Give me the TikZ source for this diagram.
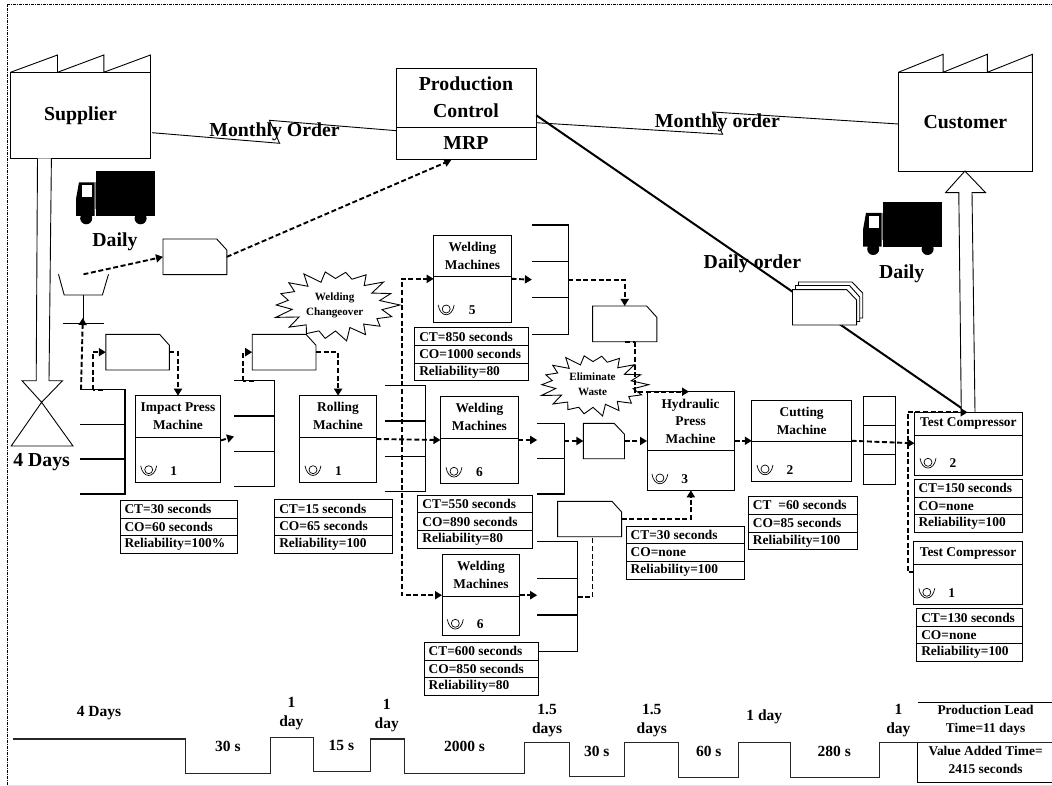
\documentclass[tikz,border=0pt]{standalone}
\usepackage{fontspec}
\setmainfont{Liberation Serif}
\usetikzlibrary{arrows.meta}
\newcommand\fntA{\fontsize{19.8}{27}\selectfont\bfseries}
\newcommand\fntB{\fontsize{15.5}{18.6}\selectfont\bfseries}
\newcommand\fntC{\fontsize{13.4}{17.8}\selectfont\bfseries}
\newcommand\fntD{\fontsize{11.1}{15.2}\selectfont\bfseries}
\tikzset{
  box/.style={draw=black,line width=0.9pt,fill=white,inner sep=0pt,outer sep=0pt},
  ghost/.style={inner sep=0pt,outer sep=0pt},
  thinline/.style={draw=black,line width=0.9pt},
  barline/.style={draw=black,line width=1.2pt},
  dashconn/.style={draw=black,line width=1.9pt,dash pattern=on 5pt off 2.6pt,-{Triangle[length=7pt,width=8pt]}},
  dashplain/.style={draw=black,line width=1.9pt,dash pattern=on 5pt off 2.6pt},
  title/.style={ghost,align=center,font=\fntC},
  big/.style={ghost,font=\fntA,align=center},
  mid/.style={ghost,font=\fntB,align=center},
  small/.style={ghost,font=\fntD,align=center},
  datatext/.style={ghost,anchor=west,font=\fntC},
}
% rectangular node from corners
\newcommand\rectnode[6]{\node[#1,minimum width={(#4-#3)*1pt},minimum height={(#6-#5)*1pt}] (#2) at ({(#3+#4)/2},{(#5+#6)/2}) {};}
% factory: name, x1, x2, y1, y2, ytop, p1, p2, text
\newcommand\factory[9]{%
  \draw[thinline] (#2,#4) -- (#7,#6) -- (#7,#4) -- (#8,#6) -- (#8,#4) -- (#3,#6) -- (#3,#4);
  \node[box,big,minimum width={(#3-#2)*1pt},minimum height={(#5-#4)*1pt}] (#1) at ({(#2+#3)/2},{(#4+#5)/2}) {#9};}
% process box: name, x1, x2, y1, ydiv, y2
\newcommand\procbox[6]{%
  \rectnode{box}{#1}{#2}{#3}{#4}{#6}
  \draw[thinline] (#2,#5) -- (#3,#5);}
% operator icon + count: name, xicon, xnum, y, count
\newcommand\opnum[5]{%
  \draw[line width=0.7pt] (#2,#4-1) circle [radius=4pt];
  \draw[line width=0.7pt] (#2-8,#4-5) .. controls (#2-6,#4+8) and (#2+6,#4+8) .. (#2+8,#4-5);
  \node[ghost,font=\fntC] (#1) at (#3,#4) {#5};}
% inventory bracket: name, x1, x2, y0, y1, y2, y3
\newcommand\invbox[7]{%
  \rectnode{ghost}{#1}{#2}{#3}{#4}{#7}
  \draw[barline] (#2,#4) -- (#3,#4) -- (#3,#7) -- (#2,#7);
  \draw[barline] (#2,#5) -- (#3,#5) (#2,#6) -- (#3,#6);}
% tag: name, x1, x2, y1, y2, xcut, ycut
\newcommand\tagbox[7]{%
  \rectnode{ghost}{#1}{#2}{#3}{#4}{#5}
  \draw[thinline,fill=white] (#2,#4) -- (#6,#4) -- (#3,#7) -- (#3,#5) -- (#2,#5) -- cycle;}
% data box: name, x1, x2, y0, y1, y2, y3
\newcommand\databox[7]{%
  \rectnode{box}{#1}{#2}{#3}{#4}{#7}
  \draw[thinline] (#2,#5) -- (#3,#5) (#2,#6) -- (#3,#6);
  \def\dX{#2}\def\dA{#4}\def\dB{#5}\def\dC{#6}\def\dD{#7}\def\dN{#1}}
\newcommand\datalines[3]{%
  \node[datatext] (\dN a) at (\dX+4.5,{(\dA+\dB)/2}) {#1};
  \node[datatext] (\dN b) at (\dX+4.5,{(\dB+\dC)/2}) {#2};
  \node[datatext] (\dN c) at (\dX+4.5,{(\dC+\dD)/2}) {#3};}
\newcommand\truck[2]{%
  \begin{scope}[shift={(#1,#2)}]
    \fill (95.7,171.3) rectangle (154.8,216);
    \fill (76,216) -- (76,199) -- (79,182.3) -- (94.5,182.3) -- (94.5,216) -- cycle;
    \fill[white] (82,185) rectangle (92,197.3);
    \draw[gray,line width=0.6pt] (95.2,182) -- (95.2,209);
    \fill (86.2,218.3) circle [radius=6pt];
    \fill (140.6,218.3) circle [radius=6pt];
  \end{scope}}
\newcommand\burst[5]{% name, cx, cy, rx, ry
  \draw[thinline,fill=white] plot[samples at={0,...,35},variable=\i]
    ({#2+#4*(mod(\i,2)==0 ? 1-0.10*abs(sin(\i*67)) : 0.70+0.05*sin(\i*41))*cos(\i*10)},
     {#3+#5*(mod(\i,2)==0 ? 1-0.10*abs(sin(\i*67)) : 0.70+0.05*sin(\i*41))*sin(\i*10)}) -- cycle;}
\begin{document}
\begin{tikzpicture}[x=1pt,y=-1pt]
\useasboundingbox (0,0) rectangle (1052,786);
% frame
\draw[line width=0.6pt,dash pattern=on 3pt off 1pt on 1pt off 1pt] (6.8,785) -- (6.8,4.7) -- (1052,4.7);
\draw[black!12,line width=0.6pt] (6.8,785.3) -- (1052,785.3);

% factories
\factory{supplier}{10.5}{150.5}{72.3}{158.3}{55}{57.5}{103.8}{Supplier}
\factory{customer}{898.4}{1032.4}{72.3}{171}{54.3}{943.1}{987.3}{Customer}

% production control
\procbox{pc}{396.5}{536.3}{68}{127}{159}
\node[big] (pctext) at (466,97) {Production\\Control};
\node[big] (mrp) at (466,142.7) {MRP};

% monthly order lightning lines
\coordinate (moA) at (152,132.7);
\coordinate (moB) at (279.6,143.3);
\coordinate (moC) at (269.4,120.3);
\coordinate (moD) at (396.5,130.7);
\draw[thinline] (moA) -- (moB) -- (moC) -- (moD);
\coordinate (mpA) at (536.3,122.7);
\coordinate (mpB) at (722.6,134.3);
\coordinate (mpC) at (712.4,112);
\coordinate (mpD) at (898.4,124);
\draw[thinline] (mpA) -- (mpB) -- (mpC) -- (mpD);

% daily order thick line
\coordinate (doA) at (536.3,115.3);
\coordinate (doB) at (967.6,412.3);
\draw[line width=2pt] (doA) -- (doB);

% shipment arrows
\draw[thinline,fill=white] (37.5,158.3) -- (36.2,380.7) -- (22,380.7) -- (41.6,402.3) -- (62.5,380.7) -- (49,380.7) -- (51.4,158.3);
\draw[thinline] (41.6,402.3) -- (11.2,446) -- (73,446) -- cycle;
\draw[thinline,fill=white] (961.3,412.3) -- (958.8,192.7) -- (945.5,192.7) -- (964.9,171) -- (985.6,192.7) -- (972,192.7) -- (975,412.3);

% trucks
\truck{0}{0}
\truck{787}{30.7}
\node[big] (dailyA) at (115,241.7) {Daily};
\node[big] (dailyB) at (901.7,273.5) {Daily};

% hopper
\draw[thinline] (58.5,274.3) -- (64.2,295) -- (102.4,295) -- (108.5,274.3);
\draw[thinline] (83.5,295) -- (83.5,323.7);
\draw[barline] (63.2,323.7) -- (103.8,323.7);
\coordinate (hopTop) at (83.5,274.3);
\coordinate (hopBase) at (82.8,318);
\coordinate (mrpIn) at (451.3,160);

% bursts
\burst{wc}{335.5}{305}{64.5}{36.7}
\node[small] (wctext) at (334.7,305.5) {Welding\\Changeover};
\burst{ew}{593}{384.7}{55.7}{32}
\node[small] (ewtext) at (592.5,384.3) {Eliminate\\Waste};

% tags
\tagbox{tagA}{163}{226.8}{239}{274.7}{216.7}{250}
\tagbox{tagB}{105.8}{169.4}{334.3}{370}{159.6}{345.3}
\tagbox{tagC}{252.2}{316}{334.3}{370}{306}{345.3}
\tagbox{tagD}{592.6}{656.8}{306}{341.7}{646.6}{317.3}
\tagbox{tagE}{583.4}{624.5}{423.3}{458.7}{614.1}{434.3}
\tagbox{tagF}{557.6}{621.6}{501.3}{536.7}{612}{512}
% tag stack
\draw[thinline,fill=white] (798.5,282) -- (852,282) -- (862.7,293) -- (862.7,318) -- (856,318) -- (798.5,318) -- cycle;
\draw[thinline,fill=white] (795.5,285.5) -- (849.5,285.5) -- (859.7,297) -- (859.7,321.5) -- (795.5,321.5) -- cycle;
\tagbox{tagG}{792.5}{856.6}{289.7}{325}{846.8}{300}

% inventories
\invbox{invA}{79.8}{125}{389.7}{424.7}{459}{494}
\invbox{invB}{234}{274.5}{380.7}{416}{451.7}{486.7}
\invbox{invC}{385.4}{425.6}{385.7}{421}{456.3}{491.3}
\invbox{invD}{531.9}{568.2}{225}{261.7}{297.7}{334.3}
\invbox{invE}{537.2}{564.2}{423.3}{423.3}{458.7}{494}
\invbox{invF}{537.2}{577.5}{541.7}{578.7}{615}{651.7}

% FIFO column
\rectnode{box}{fifo}{863.2}{895.2}{396}{484.3}
\draw[thinline] (863.2,425.3) -- (895.2,425.3) (863.2,454.7) -- (895.2,454.7);

% process boxes
\procbox{impact}{135.6}{220.4}{395.7}{437.3}{482.3}
\node[title] (impactT) at (178,416.3) {Impact Press\\Machine};
\opnum{impactN}{148.7}{173.8}{470.7}{1}
\procbox{rolling}{299.9}{376.3}{395.7}{437.3}{482.3}
\node[title] (rollingT) at (338,416.3) {Rolling\\Machine};
\opnum{rollingN}{313}{338.4}{470.7}{1}
\procbox{wfive}{433.7}{511.5}{235.7}{276.3}{322}
\node[title] (wfiveT) at (472.5,256.3) {Welding\\Machines};
\opnum{wfiveN}{446.2}{472.3}{310}{5}
\procbox{wsixa}{440.5}{518.2}{396.7}{438.3}{483.3}
\node[title] (wsixaT) at (479.4,417.2) {Welding\\Machines};
\opnum{wsixaN}{454}{479.4}{472.3}{6}
\procbox{wsixb}{442}{519.8}{554.7}{596}{635.7}
\node[title] (wsixbT) at (481,575.3) {Welding\\Machines};
\opnum{wsixbN}{455.3}{480.2}{624.3}{6}
\procbox{hyd}{647}{734.7}{391.7}{450.3}{490.3}
\node[title] (hydT) at (690.6,421.3) {Hydraulic\\Press\\Machine};
\opnum{hydN}{659.9}{684.8}{479}{3}
\procbox{cut}{751.8}{851.6}{400.3}{441.3}{481.3}
\node[title] (cutT) at (801.7,421.3) {Cutting\\Machine};
\opnum{cutN}{765}{790}{470}{2}
\procbox{tca}{914.8}{1022.5}{412.3}{435.7}{475}
\node[title] (tcaT) at (968.4,423.3) {Test Compressor};
\opnum{tcaN}{928}{953}{463.3}{2}
\procbox{tcb}{913.5}{1022.5}{541.3}{564.7}{604.3}
\node[title] (tcbT) at (968,553.3) {Test Compressor};
\opnum{tcbN}{926.8}{951.8}{593.3}{1}

% data boxes
\databox{dImpact}{120}{237.7}{500.3}{518.3}{535.7}{553.3}
\datalines{CT=30 seconds}{CO=60 seconds}{Reliability=100\%}
\databox{dRolling}{274.8}{392.5}{499.7}{517.3}{535.3}{553}
\datalines{CT=15 seconds}{CO=65 seconds}{Reliability=100}
\databox{dFive}{414.8}{528.7}{327.7}{345.7}{363}{380.7}
\datalines{CT=850 seconds}{CO=1000 seconds}{Reliability=80}
\databox{dSixA}{417.9}{532.2}{495.3}{512.7}{530.7}{548.3}
\datalines{CT=550 seconds}{CO=890 seconds}{Reliability=80}
\databox{dSixB}{424.2}{538}{642}{660}{677.5}{695}
\datalines{CT=600 seconds}{CO=850 seconds}{Reliability=80}
\databox{dHyd}{626.2}{744.3}{526}{543.7}{561.3}{579}
\datalines{CT=30 seconds}{CO=none}{Reliability=100}
\databox{dCut}{748.4}{857.4}{496.7}{514}{532}{549.7}
\datalines{CT\hspace{3.5pt} =60 seconds}{CO=85 seconds}{Reliability=100}
\databox{dTa}{914}{1022.5}{479.7}{497}{514.7}{532.3}
\datalines{CT=150 seconds}{CO=none}{Reliability=100}
\databox{dTb}{916.8}{1022.5}{608.7}{626.3}{643.7}{661.7}
\datalines{CT=130 seconds}{CO=none}{Reliability=100}

% dashed connectors
\draw[dashconn] (hopTop) -- (tagA.west);
\draw[dashconn] (tagA.east) -- (mrpIn);
\coordinate (invAl) at (81,389.7);
\draw[dashconn] (invAl) -- (hopBase);
\coordinate (invAtop) at (102.5,389.7);
\coordinate (invAup) at (93,389.7);
\draw[dashplain] (invAtop) -- (invAup);
\draw[dashconn] (invAup) |- (tagB.west);
\draw[dashconn] (tagB.east) -| (impact.north);
\coordinate (impOut) at (221,440.4);
\coordinate (invBin) at (234,436.5);
\draw[dashconn] (impOut) -- (invBin);
\coordinate (invBtop) at (254,380.7);
\coordinate (invBup) at (242.7,380.7);
\draw[dashplain] (invBtop) -- (invBup);
\draw[dashconn] (invBup) |- (tagC.west);
\draw[dashconn] (tagC.east) -| (rolling.north);
\draw[dashconn] (rolling.east) -- (wsixa.west);
\coordinate (trunk) at (401.6,439.5);
\draw[dashconn] (trunk) |- (wfive.west);
\draw[dashconn] (trunk) |- (wsixb.west);
\draw[dashconn] (wfive.east) -- (invD.west);
\draw[dashconn] (invD.east) -| (tagD.north);
\coordinate (tagDa) at (625,341.7);
\coordinate (tagDb) at (635.2,341.7);
\coordinate (hydIn) at (689,391.7);
\draw[dashplain] (tagDa) -- (tagDb);
\draw[dashconn] (tagDb) |- (hydIn);
\draw[dashconn] (wsixa.east) -- (invE.west |- wsixa.east);
\draw[dashconn] (invE.east |- tagE.west) -- (tagE.west);
\draw[dashconn] (tagE.east) -- (hyd.west |- tagE.east);
\draw[dashconn] (hyd.east |- cut.west) -- (cut.west);
\draw[dashconn] (wsixb.east) -- (invF.west |- wsixb.east);
\coordinate (tagFin) at (592.5,536.7);
\draw[dashplain] (invF.east) -| (tagFin);
\draw[dashconn] (tagF.east) -| (hyd.south);
\coordinate (tcaIn) at (914.4,443.3);
\draw[dashconn] (cut.east) -- (tcaIn);
\coordinate (tcbOut) at (913.5,572.3);
\coordinate (tcLeft) at (907.7,412.3);
\coordinate (tcTop) at (967.6,412.3);
\draw[dashplain] (tcbOut) -| (tcLeft);
\draw[dashconn] (tcLeft) -- (tcTop);

% lightning labels
\node[big] (moText) at (274.5,131.7) {Monthly Order};
\node[big] (mpText) at (717.4,122.7) {Monthly order};
\node[big] (doText) at (752.4,264) {Daily order};
\node[big] (fourDays) at (41.6,461.7) {4 Days};

% timeline
\draw[line width=1.1pt,draw=black!85] (12.8,739) -- (185.6,739) -- (185.6,773.7) -- (270.5,773.7) -- (270.5,737.3) -- (313.7,737.3) -- (313.7,771.7) -- (370.2,771.7) -- (370.2,739) -- (404.7,739) -- (404.7,773.7) -- (524.5,773.7) -- (524.5,742.7) -- (569.2,742.7) -- (569.2,776.7) -- (624.5,776.7) -- (624.5,742.7) -- (678.5,742.7) -- (678.5,777.7) -- (738.9,777.7) -- (738.9,742.7) -- (790.1,742.7) -- (790.1,777.7) -- (879.4,777.7) -- (879.4,742.7) -- (1052,742.7);
\draw[thinline] (917.7,702.3) -- (1052,702.3);
\draw[thinline] (917.7,742.7) -- (917.7,782.7) -- (1052,782.7);
\node[mid] (tA) at (99,712.7) {4 Days};
\node[mid] (tB) at (227.9,746.7) {30 s};
\node[mid] (tC) at (291.4,713.7) {1\\day};
\node[mid] (tD) at (341.4,745.7) {15 s};
\node[mid] (tE) at (386.7,715.5) {1\\day};
\node[mid] (tF) at (464.5,746.7) {2000 s};
\node[mid] (tG) at (547.1,720.5) {1.5\\days};
\node[mid] (tH) at (596.7,751) {30 s};
\node[mid] (tI) at (651.7,720.5) {1.5\\days};
\node[mid] (tJ) at (708.7,751) {60 s};
\node[mid] (tK) at (764.3,716.7) {1 day};
\node[mid] (tL) at (834.2,751) {280 s};
\node[mid] (tM) at (898.4,720.5) {1\\day};
\node[title] (tN) at (985.6,720.5) {Production Lead\\Time=11 days};
\node[title] (tO) at (985.6,760.2) {Value Added Time=\\2415 seconds};
\end{tikzpicture}
\end{document}
